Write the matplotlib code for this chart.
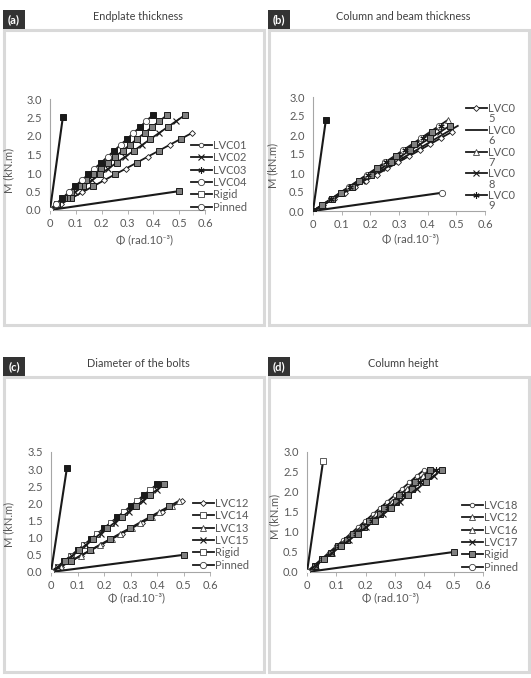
import matplotlib

matplotlib.use("Agg")
import matplotlib.pyplot as plt
from matplotlib.lines import Line2D
from matplotlib.patches import Rectangle

plt.rcParams["font.family"] = ["Lato", "DejaVu Sans"]

W, H = 531, 678
GREY_TXT = "#595959"
FRAME = "#d9d9d9"
INK = "#1a1a1a"
FS = 8

# --- data (load steps in kN.m, rotations in rad.10^-3) ---
M_STEPS = [0, 0.16, 0.32, 0.48, 0.64, 0.80, 0.96, 1.12, 1.28, 1.44, 1.60,
           1.76, 1.92, 2.08, 2.24, 2.40, 2.56]

# (a) endplate thickness
a_lvc01_phi = [0, 0.041, 0.083, 0.125, 0.167, 0.209, 0.251, 0.294, 0.336, 0.378,
               0.421, 0.463, 0.506, 0.549]
a_lvc02_phi = [0, 0.031, 0.064, 0.096, 0.128, 0.161, 0.193, 0.226, 0.258, 0.291,
               0.324, 0.357, 0.389, 0.422, 0.455, 0.488, 0.521]
a_lvc03_phi = [0, 0.027, 0.055, 0.083, 0.111, 0.139, 0.167, 0.196, 0.224, 0.252,
               0.281, 0.309, 0.337, 0.366, 0.394, 0.423, 0.452]
a_lvc04_phi = [0, 0.022, 0.048, 0.072, 0.097, 0.122, 0.148, 0.172, 0.198, 0.223,
               0.248, 0.273, 0.298, 0.323, 0.348, 0.372, 0.397]
a_rigid = ([0, 0.05], [0, 2.52])
a_pinned = ([0, 0.50], [0, 0.51])

# (b) column and beam thickness
b_lvc05_phi = [0, 0.036, 0.073, 0.110, 0.147, 0.185, 0.222, 0.259, 0.297, 0.334,
               0.372, 0.409, 0.446, 0.484]
b_lvc06_phi = [0, 0.035, 0.071, 0.107, 0.143, 0.179, 0.215, 0.251, 0.287, 0.323,
               0.360, 0.396, 0.432, 0.468, 0.505]
b_lvc07_phi = [0, 0.031, 0.063, 0.094, 0.126, 0.157, 0.188, 0.220, 0.251, 0.283,
               0.314, 0.346, 0.377, 0.408, 0.440, 0.471]
b_lvc08_phi = [0, 0.034, 0.068, 0.102, 0.136, 0.170, 0.204, 0.238, 0.272, 0.306,
               0.340, 0.374, 0.409, 0.443, 0.477]
b_lvc09_phi = [0, 0.032, 0.064, 0.096, 0.128, 0.160, 0.192, 0.224, 0.256, 0.288,
               0.320, 0.352, 0.384, 0.416, 0.448]
b_rigid = ([0, 0.045], [0, 2.40])
b_pinned = ([0, 0.45], [0, 0.48])

# (c) diameter of the bolts
c_lvc12_phi = [0, 0.038, 0.076, 0.114, 0.152, 0.190, 0.229, 0.267, 0.305, 0.343,
               0.381, 0.419, 0.457, 0.495]
c_lvc14_phi = [0, 0.025, 0.050, 0.075, 0.100, 0.125, 0.150, 0.175, 0.200, 0.225,
               0.250, 0.275, 0.300, 0.325, 0.350, 0.375, 0.400]
c_lvc13_phi = [0, 0.037, 0.074, 0.112, 0.149, 0.186, 0.223, 0.260, 0.298, 0.335,
               0.372, 0.409, 0.447, 0.484]
c_lvc15_phi = [0, 0.027, 0.053, 0.080, 0.107, 0.133, 0.160, 0.187, 0.213, 0.240,
               0.267, 0.293, 0.320, 0.347, 0.373, 0.400, 0.427]
c_rigid = ([0, 0.06], [0, 3.03])
c_pinned = ([0, 0.50], [0, 0.50])

# (d) column height
d_lvc18_phi = [0, 0.024, 0.049, 0.074, 0.099, 0.124, 0.149, 0.174, 0.199, 0.224,
               0.249, 0.274, 0.299, 0.324, 0.349, 0.374, 0.400]
d_lvc12_phi = [0, 0.026, 0.052, 0.079, 0.105, 0.131, 0.157, 0.184, 0.210, 0.236,
               0.262, 0.289, 0.315, 0.341, 0.367, 0.394, 0.420]
d_lvc16_phi = [0, 0.028, 0.055, 0.083, 0.110, 0.138, 0.166, 0.193, 0.221, 0.248,
               0.276, 0.303, 0.331, 0.359, 0.386, 0.414, 0.441]
d_lvc17_phi = [0, 0.029, 0.058, 0.086, 0.115, 0.144, 0.173, 0.202, 0.231, 0.259,
               0.288, 0.317, 0.346, 0.375, 0.404, 0.432, 0.461]
d_rigid = ([0, 0.055], [0, 2.78])
d_pinned = ([0, 0.50], [0, 0.50])

# --- marker styles ---
MK = {
    "dia": dict(marker="D", ms=3.0, mfc="white", mec=INK, mew=0.6),
    "circ": dict(marker="o", ms=4.5, mfc="white", mec="#404040", mew=0.6),
    "scirc": dict(marker="o", ms=3.2, mfc="white", mec="#404040", mew=0.6),
    "x": dict(marker="x", ms=3.8, mec=INK, mew=0.8),
    "gsq": dict(marker="s", ms=4.0, mfc="#808080", mec=INK, mew=0.7),
    "bsq": dict(marker="s", ms=4.0, mfc=INK, mec=INK, mew=0.7),
    "wsq": dict(marker="s", ms=4.5, mfc="white", mec="#404040", mew=0.6),
    "tri": dict(marker="^", ms=4.0, mfc="white", mec="#404040", mew=0.6),
    "ast": dict(marker=(6, 2, 0), ms=4.5, mec=INK, mew=0.8),
    "none": dict(marker=""),
}


def px(x, y):
    return x / W, 1 - y / H


def curve(ax, phi, odd, even=None, lw=1.3):
    m = M_STEPS[:len(phi)]
    ax.plot(phi, m, color=INK, lw=lw, markevery=slice(1, None, 2),
            zorder=3, **MK[odd])
    ax.plot(phi, m, ls="none", markevery=slice(2, None, 2), zorder=4,
            **MK[even or odd])


def bound(ax, line, origin, end):
    ax.plot(*line, color=INK, lw=1.5, zorder=5, markevery=[1], **MK[end])
    ax.plot(*line, ls="none", zorder=6, markevery=[0], **MK[origin])


def panel(x0, tag, title, frame_y, axes_px, ymax, ylab_xy, xlab_xy):
    fig.add_artist(Rectangle(px(x0 + 1, frame_y[1]), 260 / W,
                             (frame_y[1] - frame_y[0]) / H,
                             transform=fig.transFigure, fc="white",
                             ec=FRAME, lw=2.2, zorder=-2))
    fig.add_artist(Rectangle(px(x0, frame_y[0] - 1), 22 / W, 19 / H,
                             transform=fig.transFigure, fc="#333333",
                             ec="none", zorder=-1))
    fig.text(*px(x0 + 11, frame_y[0] - 10.5), tag, color="white",
             fontsize=8, fontweight="bold", ha="center", va="center")
    fig.text(*px(x0 + 135, frame_y[0] - 14), title, color="#404040",
             fontsize=7.8, ha="center", va="center")
    l, r, t, b = axes_px
    ax = fig.add_axes([l / W, 1 - b / H, (r - l) / W, (b - t) / H])
    ax.set_facecolor("none")
    ax.set_xlim(0, 0.6)
    ax.set_ylim(0, ymax)
    ax.set_xticks([0, 0.1, 0.2, 0.3, 0.4, 0.5, 0.6],
                  ["0", "0.1", "0.2", "0.3", "0.4", "0.5", "0.6"])
    yt = [i * 0.5 for i in range(int(ymax / 0.5) + 1)]
    ax.set_yticks(yt, [f"{v:.1f}" for v in yt])
    for s in ("top", "right"):
        ax.spines[s].set_visible(False)
    for s in ("left", "bottom"):
        ax.spines[s].set_color("#a6a6a6")
        ax.spines[s].set_linewidth(0.8)
    ax.tick_params(axis="x", length=3, width=0.6, color="#a6a6a6", pad=3,
                   labelsize=FS, labelcolor=GREY_TXT)
    ax.tick_params(axis="y", length=0, pad=6, labelsize=FS,
                   labelcolor=GREY_TXT)
    fig.text(*px(*ylab_xy), "M (kN.m)", rotation=90, ha="center",
             va="center", fontsize=FS, color=GREY_TXT)
    fig.text(*px(*xlab_xy), "Φ (rad.10⁻³)", ha="center", va="center",
             fontsize=FS, color=GREY_TXT)
    return ax


def legend(ax, styles, labels, x, y, spacing):
    handles = [Line2D([], [], color=INK, lw=1.3, **MK[s]) for s in styles]
    return ax.legend(handles, labels, loc="upper left",
                     bbox_to_anchor=px(x, y), bbox_transform=fig.transFigure,
                     frameon=False, fontsize=FS, labelcolor=GREY_TXT,
                     handlelength=1.85, handletextpad=0.15,
                     labelspacing=spacing, borderpad=0, borderaxespad=0)


fig = plt.figure(figsize=(W / 100, H / 100), dpi=100)

# (a)
ax = panel(3, "(a)", "Endplate thickness", (30, 325), (50, 205, 99, 210), 3.0,
           (9, 170), (144, 240))
curve(ax, a_lvc01_phi, "dia", "gsq")
curve(ax, a_lvc02_phi, "x", "gsq")
curve(ax, a_lvc03_phi, "gsq", "gsq")
curve(ax, a_lvc04_phi, "circ", "bsq")
bound(ax, a_rigid, "circ", "bsq")
bound(ax, a_pinned, "circ", "gsq")
legend(ax, ["scirc", "x", "ast", "circ", "wsq", "circ"],
       ["LVC01", "LVC02", "LVC03", "LVC04", "Rigid", "Pinned"],
       191, 140, 0.12)

# (b)
ax = panel(268, "(b)", "Column and beam thickness", (30, 325),
           (313, 485, 97, 211), 3.0, (273, 165), (411, 239))
curve(ax, b_lvc05_phi, "dia")
curve(ax, b_lvc06_phi, "none")
curve(ax, b_lvc07_phi, "tri", "circ")
curve(ax, b_lvc08_phi, "x", "gsq")
curve(ax, b_lvc09_phi, "gsq", "ast")
bound(ax, b_rigid, "bsq", "bsq")
bound(ax, b_pinned, "bsq", "circ")
leg = legend(ax, ["dia", "none", "tri", "x", "ast"],
             ["LVC0"] * 5, 466, 103, 0.97)
for txt, d in zip(leg.get_texts(), "56789"):
    ax.annotate(d, xy=(0, 0), xycoords=txt, xytext=(0, 0.5),
                textcoords="offset points", ha="left", va="top",
                fontsize=FS, color=GREY_TXT, annotation_clip=False,
                zorder=10)

# (c)
ax = panel(3, "(c)", "Diameter of the bolts", (377, 672),
           (51, 210, 452, 572), 3.5, (9, 524), (136, 598))
curve(ax, c_lvc12_phi, "dia", "tri")
curve(ax, c_lvc14_phi, "wsq", "bsq")
curve(ax, c_lvc13_phi, "tri", "gsq")
curve(ax, c_lvc15_phi, "x", "gsq")
bound(ax, c_rigid, "circ", "bsq")
bound(ax, c_pinned, "circ", "gsq")
legend(ax, ["dia", "wsq", "tri", "x", "wsq", "circ"],
       ["LVC12", "LVC14", "LVC13", "LVC15", "Rigid", "Pinned"],
       193, 498, 0.12)

# (d)
ax = panel(268, "(d)", "Column height", (377, 672),
           (307, 483, 452, 572), 3.0, (275, 516), (391, 598))
curve(ax, d_lvc18_phi, "scirc")
curve(ax, d_lvc12_phi, "tri", "gsq")
curve(ax, d_lvc16_phi, "gsq", "ast")
curve(ax, d_lvc17_phi, "x", "gsq")
bound(ax, d_rigid, "circ", "wsq")
bound(ax, d_pinned, "circ", "gsq")
legend(ax, ["scirc", "tri", "tri", "x", "gsq", "circ"],
       ["LVC18", "LVC12", "LVC16", "LVC17", "Rigid", "Pinned"],
       462, 500, 0.12)

fig.savefig("out.png", dpi=100)
